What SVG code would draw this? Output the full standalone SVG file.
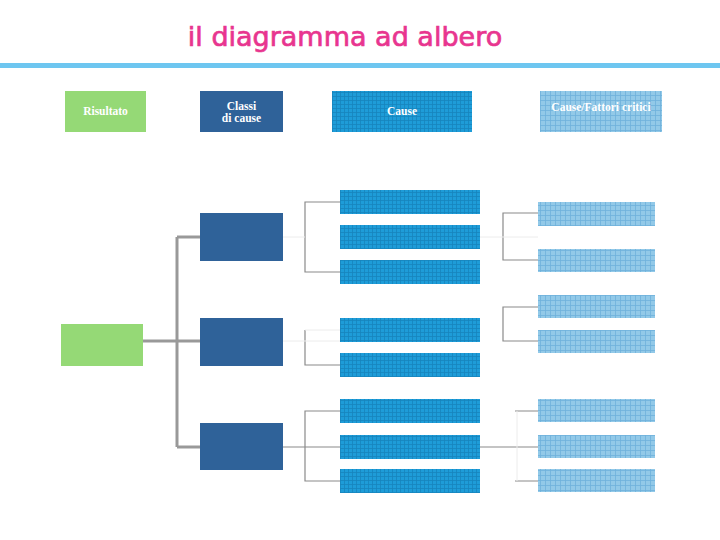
<svg xmlns="http://www.w3.org/2000/svg" width="720" height="540" viewBox="0 0 720 540">
<defs>
<pattern id="pc" width="4" height="4" patternUnits="userSpaceOnUse">
<rect width="4" height="4" fill="#1e9cd8"/>
<path d="M0 0.5H4M0.5 0V4" stroke="#1784bd" stroke-width="0.8"/>
</pattern>
<pattern id="pf" width="5" height="5" patternUnits="userSpaceOnUse">
<rect width="5" height="5" fill="#92c9e8"/>
<path d="M0 0.5H5M0.5 0V5" stroke="#6fb1dc" stroke-width="0.8"/>
</pattern>
<style>
.hd{font-family:"Liberation Serif",serif;font-weight:bold;font-size:11.5px;fill:#fff;text-anchor:middle}
.res{fill:#95d976}
.cls{fill:#2f6299}
.cau{fill:url(#pc)}
.fat{fill:url(#pf)}
.trunk{stroke:#999;stroke-width:3;fill:none}
.br{stroke:#8a8a8a;stroke-width:1.2;fill:none}
.faint{stroke:#ececec;stroke-width:1;fill:none}
</style>
</defs>
<rect width="720" height="540" fill="#fff"/>
<text x="345" y="46" font-family="'Comic Sans MS','DejaVu Sans',sans-serif" font-size="27" fill="#e8358f" stroke="#e8358f" stroke-width="0.7" text-anchor="middle">il diagramma ad albero</text>
<rect x="0" y="63" width="720" height="5" fill="#6ec6f0"/>

<g id="header">
<g id="h-risultato"><rect class="res" x="65" y="91" width="81" height="41"/><text class="hd" x="105.5" y="115">Risultato</text></g>
<g id="h-classi"><rect class="cls" x="200" y="91" width="83" height="41"/><text class="hd" x="241.5" y="110">Classi</text><text class="hd" x="241.5" y="122">di cause</text></g>
<g id="h-cause"><rect class="cau" x="332" y="91" width="140" height="41"/><text class="hd" x="402" y="115">Cause</text></g>
<g id="h-fattori"><rect class="fat" x="540" y="91" width="122" height="41"/><text class="hd" x="601" y="111">Cause/Fattori critici</text></g>
</g>

<g id="connectors">
<path class="trunk" d="M143 341H200M177 237V447M177 237H200M177 447H200"/>
<path class="br" d="M340 202H305V272H340"/>
<path class="br" d="M305 330V365H340"/>
<path class="br" d="M340 411H305V481H340M283 447H340"/>
<path class="br" d="M538 213H503V260H538"/>
<path class="br" d="M538 307H503V341H538"/>
<path class="br" d="M515 411H538M480 447H538M515 481H538"/>
<path class="faint" d="M283 237H305M283 341H340M305 330H340M517 411V481M480 237H538"/>
</g>

<g id="n-risultato"><rect class="res" x="61" y="324" width="82" height="42"/></g>
<g id="n-classe1"><rect class="cls" x="200" y="213" width="83" height="48"/></g>
<g id="n-classe2"><rect class="cls" x="200" y="318" width="83" height="48"/></g>
<g id="n-classe3"><rect class="cls" x="200" y="423" width="83" height="47"/></g>

<g id="n-causa1"><rect class="cau" x="340" y="190" width="140" height="24"/></g>
<g id="n-causa2"><rect class="cau" x="340" y="225" width="140" height="24"/></g>
<g id="n-causa3"><rect class="cau" x="340" y="260" width="140" height="24"/></g>
<g id="n-causa4"><rect class="cau" x="340" y="318" width="140" height="24"/></g>
<g id="n-causa5"><rect class="cau" x="340" y="353" width="140" height="24"/></g>
<g id="n-causa6"><rect class="cau" x="340" y="399" width="140" height="24"/></g>
<g id="n-causa7"><rect class="cau" x="340" y="435" width="140" height="24"/></g>
<g id="n-causa8"><rect class="cau" x="340" y="469" width="140" height="24"/></g>

<g id="n-fattore1"><rect class="fat" x="538" y="202" width="117" height="24"/></g>
<g id="n-fattore2"><rect class="fat" x="538" y="249" width="117" height="23"/></g>
<g id="n-fattore3"><rect class="fat" x="538" y="295" width="117" height="23"/></g>
<g id="n-fattore4"><rect class="fat" x="538" y="330" width="117" height="23"/></g>
<g id="n-fattore5"><rect class="fat" x="538" y="399" width="117" height="23"/></g>
<g id="n-fattore6"><rect class="fat" x="538" y="435" width="117" height="23"/></g>
<g id="n-fattore7"><rect class="fat" x="538" y="469" width="117" height="23"/></g>
</svg>
